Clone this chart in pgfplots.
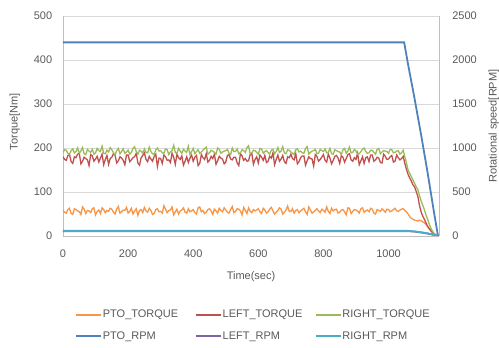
\documentclass[border=0pt]{standalone}
\usepackage{pgfplots}
\pgfplotsset{compat=1.18}
\usepackage{pgfplotstable}
\usepackage{fontspec}
\setmainfont{Liberation Sans}
\definecolor{cOr}{HTML}{F79646}
\definecolor{cRe}{HTML}{C0504D}
\definecolor{cGr}{HTML}{9BBB59}
\definecolor{cBl}{HTML}{4F81BD}
\definecolor{cPu}{HTML}{8064A2}
\definecolor{cTe}{HTML}{4BACC6}
\definecolor{txt}{HTML}{595959}
\definecolor{gridc}{HTML}{D9D9D9}
\definecolor{axc}{HTML}{BFBFBF}

\pgfplotstableread{
t pto left right
0 58 180 190
5 54 174 196
10 52 172 195
15 60 183 188
20 63 185 186
25 51 169 194
30 49 165 198
35 62 180 189
40 60 178 192
45 57 186 200
50 55 188 188
55 49 164 193
60 66 170 201
65 61 179 187
70 51 176 185
75 58 173 197
80 57 160 193
85 53 185 190
90 62 182 197
95 64 170 186
100 48 175 189
105 56 181 199
110 59 168 194
115 51 177 192
120 64 186 204
125 60 162 188
130 53 174 187
135 58 183 195
140 56 163 191
145 63 176 201
150 61 179 196
155 54 187 189
160 50 183 184
165 61 166 194
170 67 171 199
175 52 180 187
180 55 177 192
185 59 172 198
190 58 162 188
195 65 184 191
200 52 184 195
205 56 169 186
210 63 173 190
215 50 178 199
220 57 180 203
225 62 188 192
230 47 166 186
235 58 161 195
240 60 178 193
245 53 183 188
250 65 189 198
255 57 174 190
260 54 169 189
265 63 181 202
270 58 175 192
275 49 170 187
280 51 181 185
285 60 186 196
290 62 158 200
295 55 177 193
300 56 176 194
305 52 165 189
310 69 184 188
315 61 180 198
320 53 172 196
325 58 173 185
330 59 167 191
335 66 188 194
340 48 179 206
345 55 163 190
350 61 186 187
355 50 178 199
360 57 174 193
365 59 182 188
370 64 161 197
375 54 170 193
380 52 180 190
385 62 167 204
390 55 177 185
395 57 184 192
400 60 170 199
405 53 179 187
410 50 183 192
415 64 160 196
420 66 165 188
425 55 185 191
430 58 178 195
435 51 174 199
440 54 187 202
445 60 168 186
450 62 172 189
455 57 181 195
460 49 176 193
465 61 186 190
470 57 163 186
475 52 171 200
480 63 181 197
485 58 177 188
490 55 175 191
495 64 164 193
500 59 168 194
505 54 183 197
510 52 185 188
515 60 175 185
520 67 173 200
525 53 179 192
530 56 179 192
535 62 166 198
540 61 160 187
545 57 187 189
550 48 182 196
555 65 172 194
560 58 176 190
565 51 170 201
570 64 171 205
575 56 185 187
580 53 188 189
585 60 163 195
590 57 174 194
595 59 180 190
600 62 166 186
605 55 184 199
610 51 179 198
615 63 172 188
620 59 183 192
625 52 167 194
630 55 170 190
635 61 181 186
640 65 177 195
645 57 189 197
650 50 162 187
655 54 174 192
660 58 184 201
665 64 170 190
670 61 175 193
675 50 183 203
680 54 169 189
685 59 165 187
690 68 180 196
695 56 178 195
700 56 186 191
705 62 176 188
710 52 173 185
715 58 187 196
720 60 164 198
725 53 169 191
730 57 178 193
735 60 182 189
740 63 182 188
745 55 161 199
750 49 171 203
755 66 180 186
760 59 176 190
765 52 175 193
770 55 159 194
775 58 185 197
780 62 181 187
785 57 170 188
790 53 174 197
795 61 179 194
800 58 185 192
805 54 172 198
810 66 168 189
815 56 186 190
820 51 177 199
825 63 164 187
830 57 172 186
835 60 181 196
840 61 183 194
845 52 177 192
850 54 165 191
855 59 183 185
860 60 179 196
865 55 168 199
870 48 176 188
875 64 185 193
880 63 187 202
885 51 173 189
890 56 170 190
895 60 178 197
900 59 174 193
905 57 188 186
910 52 162 187
915 62 171 192
920 64 180 197
925 54 165 200
930 57 178 192
935 59 180 188
940 55 169 189
945 63 184 195
950 61 184 195
955 52 170 190
960 50 173 186
965 60 179 197
970 58 177 199
975 56 167 187
980 62 166 191
985 58 186 194
990 54 181 193
995 61 174 192
1000 60 175 188
1005 55 180 197
1010 57 183 196
1015 60 168 189
1020 63 170 190
1025 57 184 193
1030 56 178 194
1035 59 173 186
1040 61 176 189
1045 62 181 195
1050 58 165 180
1055 55 152 166
1060 50 140 150
1065 44 132 142
1070 40 125 135
1075 38 116 127
1080 36 112 120
1085 35 101 112
1090 34 90 105
1095 36 70 92
1100 35 55 80
1105 32 45 70
1110 30 38 60
1115 26 30 48
1120 22 22 38
1125 17 16 27
1130 12 12 18
1135 8 8 11
1140 4 4 6
1150 0 0 0
}\torque

\pgfplotstableread{
t pto left right
0 2200 55 58
1048 2200 55 58
1060 1950 55 58
1080 1560 50 52
1100 1150 40 42
1120 720 28 30
1140 260 12 14
1152 0 0 0
}\rpm

\pgfplotsset{
  common/.style={
    at={(63pt,112pt)}, anchor=south west,
    width=376pt, height=220pt, scale only axis,
    xmin=0, xmax=1155,
    major tick length=0pt,
    tick label style={text=txt},
    label style={text=txt},
    /pgf/number format/assume math mode=true,
    /pgf/number format/1000 sep={},
    axis line style={draw=axc, line width=0.6pt},
  },
}

\begin{document}
{\fontsize{11}{13}\selectfont
\begin{tikzpicture}[x=1pt,y=1pt]
\useasboundingbox (0,0) rectangle (499,348);
\begin{axis}[
  common,
  ymin=0, ymax=500,
  xtick={0,200,...,1000}, ytick={0,100,...,500},
  axis x line*=bottom, axis y line*=left,
  ymajorgrids, grid style={draw=gridc, line width=0.6pt},
  yticklabel style={xshift=-7pt},
  xticklabel style={yshift=-10pt},
  xlabel={Time(sec)},
  xlabel style={at={(axis description cs:0.5,-0.186)}, anchor=center},
  ylabel={Torque[Nm]},
  ylabel style={at={(axis description cs:-0.128,0.52)}, anchor=center},
]
\addplot[cOr, line width=1.3pt] table[x=t, y=pto] {\torque};
\addplot[cRe, line width=1.3pt] table[x=t, y=left] {\torque};
\addplot[cGr, line width=1.3pt] table[x=t, y=right] {\torque};
\end{axis}
\begin{axis}[
  common,
  ymin=0, ymax=2500,
  ytick={0,500,...,2500},
  axis x line=none, axis y line*=right,
  yticklabel style={xshift=9.5pt},
  ylabel={Rotational speed[RPM]},
  ylabel style={at={(axis description cs:1.146,0.5)}, anchor=center, rotate=0},
  legend columns=3,
  legend style={at={(axis description cs:0.51,-0.407)}, anchor=center,
    draw=none, fill=none, text=txt, cells={anchor=west},
    nodes={inner sep=1pt}, /tikz/row sep=10pt},
  legend image code/.code={\draw[#1, line width=1.8pt] (0pt,0pt) -- (25pt,0pt);},
]
\addlegendimage{cOr}
\addlegendentry{\makebox[91pt][l]{PTO\_TORQUE}}
\addlegendimage{cRe}
\addlegendentry{\makebox[91pt][l]{LEFT\_TORQUE}}
\addlegendimage{cGr}
\addlegendentry{\makebox[91pt][l]{RIGHT\_TORQUE}}
\addplot[cBl, line width=1.8pt] table[x=t, y=pto] {\rpm};
\addlegendentry{\makebox[91pt][l]{PTO\_RPM}}
\addplot[cPu, line width=1.8pt] table[x=t, y=left] {\rpm};
\addlegendentry{\makebox[91pt][l]{LEFT\_RPM}}
\addplot[cTe, line width=1.8pt] table[x=t, y=right] {\rpm};
\addlegendentry{\makebox[91pt][l]{RIGHT\_RPM}}
\end{axis}
\end{tikzpicture}}
\end{document}
